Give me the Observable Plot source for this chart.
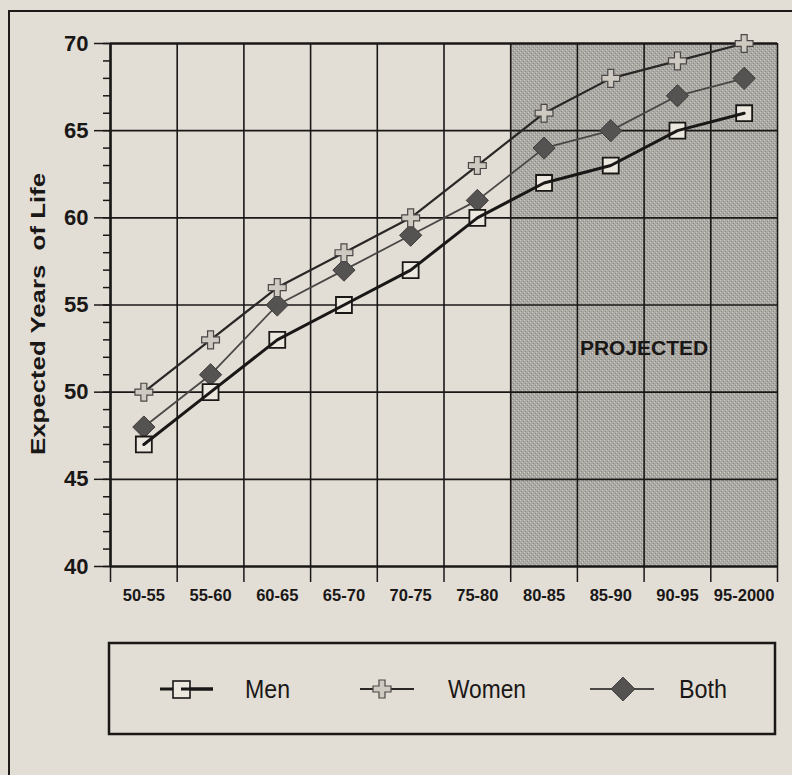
<!DOCTYPE html>
<html><head><meta charset="utf-8">
<script src="https://cdn.jsdelivr.net/npm/d3@7"></script>
<script src="https://cdn.jsdelivr.net/npm/@observablehq/plot@0.6"></script>
<style>
html,body{margin:0;padding:0;background:#e2ded5;}
#page{position:relative;width:792px;height:775px;overflow:hidden;background:#e2ded5;font-family:"Liberation Sans",Arial,Helvetica,sans-serif;}
#frame{position:absolute;left:8px;top:10px;width:820px;height:820px;border-left:2px solid #1e1a1a;border-top:2px solid #1e1a1a;}
#chart{position:absolute;left:0;top:0;}
#legend{position:absolute;left:0;top:0;pointer-events:none;}
</style></head><body>
<div id="page"><div id="frame"></div><div id="chart"></div><svg id="legend" width="792" height="775"></svg></div>
<script>
const periods = ["50-55","55-60","60-65","65-70","70-75","75-80","80-85","85-90","90-95","95-2000"];
const men   = [47, 50, 53, 55, 57, 60, 62, 63, 65, 66];
const women = [50, 53, 56, 58, 60, 63, 66, 68, 69, 70];
const both  = [48, 51, 55, 57, 59, 61, 64, 65, 67, 68];
const yMajor = [40, 45, 50, 55, 60, 65, 70];
const yMinor = d3.range(40, 71, 1);
const projectedFrom = "80-85";
const projectedLabel = "PROJECTED";
const projectedLabelY = 52.5;
const yTitle = "Expected Years  of Life";
const seriesNames = ["Men", "Women", "Both"];

const rows = periods.map((p, i) => ({period: p, pos: i + 0.5, men: men[i], women: women[i], both: both[i]}));
const pStart = periods.indexOf(projectedFrom);
const pEnd = periods.length;
const yLo = yMajor[0], yHi = yMajor[yMajor.length - 1];
const bounds = d3.range(0, periods.length + 1);
const ink = "#1a1717";

const chart = Plot.plot({
  width: 792, height: 620,
  marginTop: 43, marginBottom: 54, marginLeft: 110, marginRight: 15,
  style: {fontFamily: "'Liberation Sans', Arial, Helvetica, sans-serif", background: "transparent", color: ink},
  x: {domain: [0, periods.length]},
  y: {domain: [yLo, yHi]},
  marks: [
    Plot.rect([{x1: pStart, x2: pEnd}], {x1: "x1", x2: "x2", y1: yLo, y2: yHi, fill: "url(#stipple)"}),
    Plot.ruleX(bounds, {stroke: ink, strokeWidth: 1.6}),
    Plot.ruleY(yMajor.slice(1, -1), {stroke: ink, strokeWidth: 1.6}),
    Plot.ruleY([yHi], {stroke: ink, strokeWidth: 2.5}),
    Plot.ruleY([yLo], {stroke: ink, strokeWidth: 2.5}),
    Plot.ruleX([0], {stroke: ink, strokeWidth: 2.5}),
    Plot.axisY(yMinor, {tickSize: 7, tickFormat: () => "", label: null, stroke: ink, strokeWidth: 1.5}),
    Plot.axisY(yMajor, {tickSize: 16, tickPadding: 6, fontSize: 22, fontWeight: "bold", label: null, stroke: ink, strokeWidth: 1.5}),
    Plot.axisX(bounds, {tickSize: 16, tickFormat: () => "", label: null, stroke: ink, strokeWidth: 1.5}),
    Plot.axisX(rows.map(r => r.pos), {tickSize: 0, tickPadding: 23, tickFormat: d => periods[Math.floor(d)], fontSize: 16.5, fontWeight: "bold", label: null}),
    Plot.text([projectedLabel], {x: (pStart + pEnd) / 2, y: projectedLabelY, fontSize: 21, fontWeight: "bold", fill: ink}),
    Plot.line(rows, {x: "pos", y: "both", stroke: "#4a4747", strokeWidth: 1.8}),
    Plot.line(rows, {x: "pos", y: "women", stroke: "#2a2727", strokeWidth: 2.2}),
    Plot.dot(rows, {x: "pos", y: "both", symbol: "diamond2", r: 10, fill: "#555252", stroke: "#3f3c3c", strokeWidth: 1}),
    Plot.dot(rows, {x: "pos", y: "women", symbol: "cross", r: 7.5, fill: "#cfcac1", stroke: "#4a4747", strokeWidth: 1.2}),
    Plot.dot(rows, {x: "pos", y: "men", symbol: "square", r: 9, fill: "#ece8e0", stroke: ink, strokeWidth: 1.8}),
    Plot.line(rows, {x: "pos", y: "men", stroke: ink, strokeWidth: 3})
  ]
});
document.getElementById("chart").appendChild(chart);

// stipple pattern for the projected area
const svgSel = d3.select(chart);
const defs = svgSel.insert("defs", ":first-child");
const pat = defs.append("pattern").attr("id", "stipple").attr("patternUnits", "userSpaceOnUse").attr("width", 4).attr("height", 4);
pat.append("rect").attr("width", 4).attr("height", 4).attr("fill", "#aba9a4");
pat.append("rect").attr("x", 0).attr("y", 0).attr("width", 1).attr("height", 1).attr("fill", "#cdcac4");
pat.append("rect").attr("x", 2).attr("y", 2).attr("width", 1).attr("height", 1).attr("fill", "#cdcac4");
pat.append("rect").attr("x", 1).attr("y", 3).attr("width", 1).attr("height", 1).attr("fill", "#8e8c88");
pat.append("rect").attr("x", 3).attr("y", 1).attr("width", 1).attr("height", 1).attr("fill", "#8e8c88");

// y-axis title
const lg = d3.select("#legend");
lg.append("text").attr("transform", "translate(45,314) rotate(-90)")
  .attr("text-anchor", "middle").attr("font-family", "'Liberation Sans', Arial, sans-serif")
  .attr("font-size", 21).attr("font-weight", "bold").attr("fill", ink)
  .attr("textLength", 282).attr("lengthAdjust", "spacingAndGlyphs")
  .style("white-space", "pre").text(yTitle);

// legend
lg.append("rect").attr("x", 109).attr("y", 643).attr("width", 666).attr("height", 91)
  .attr("fill", "none").attr("stroke", ink).attr("stroke-width", 2.5);
const cy = 689;
// Men
lg.append("line").attr("x1", 160).attr("x2", 213).attr("y1", cy).attr("y2", cy).attr("stroke", ink).attr("stroke-width", 3);
lg.append("rect").attr("x", 173).attr("y", cy - 8).attr("width", 17).attr("height", 17).attr("fill", "#ece8e0").attr("stroke", ink).attr("stroke-width", 1.6);
lg.append("line").attr("x1", 181).attr("x2", 213).attr("y1", cy).attr("y2", cy).attr("stroke", ink).attr("stroke-width", 3);
// Women
lg.append("line").attr("x1", 360).attr("x2", 414).attr("y1", cy).attr("y2", cy).attr("stroke", "#2a2727").attr("stroke-width", 2.2);
lg.append("path").attr("transform", `translate(382,${cy})`)
  .attr("d", d3.symbol(d3.symbolCross, 180)()).attr("fill", "#cfcac1").attr("stroke", "#4a4747").attr("stroke-width", 1.2);
// Both
lg.append("line").attr("x1", 590).attr("x2", 654).attr("y1", cy).attr("y2", cy).attr("stroke", "#4a4747").attr("stroke-width", 1.8);
lg.append("path").attr("transform", `translate(623,${cy})`)
  .attr("d", d3.symbol(d3.symbolDiamond2, 360)()).attr("fill", "#555252").attr("stroke", "#3f3c3c");
const labelPos = [{x: 245, w: 45}, {x: 448, w: 78}, {x: 679, w: 48}];
seriesNames.forEach((name, i) => {
  lg.append("text").attr("x", labelPos[i].x).attr("y", cy + 9)
    .attr("font-family", "'Liberation Sans', Arial, sans-serif").attr("font-size", 25)
    .attr("textLength", labelPos[i].w).attr("lengthAdjust", "spacingAndGlyphs")
    .attr("fill", ink).text(name);
});
</script>
</body></html>
